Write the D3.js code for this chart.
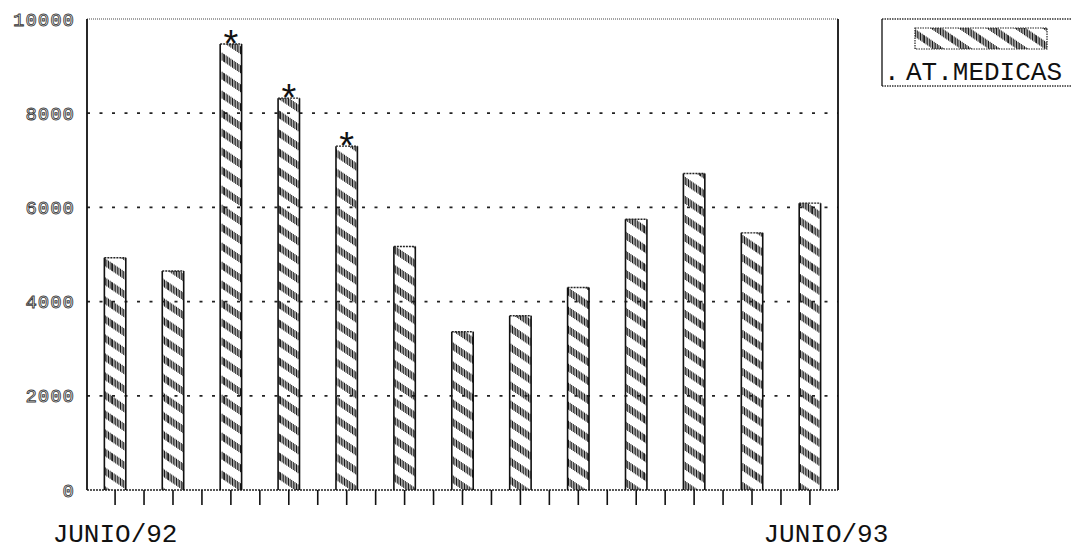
<!DOCTYPE html>
<html lang="es">
<head>
  <meta charset="UTF-8">
  <title>AT.MEDICAS</title>
  <script src="https://d3js.org/d3.v7.min.js"></script>
  <style>
      body { margin: 0; background: #fff; }
      text { font-family: "Liberation Mono", "DejaVu Sans Mono", monospace; }
      .ylab { fill: #fff; stroke: #3a3a3a; stroke-width: 0.9px; font-size: 19px; letter-spacing: 1px; }
      .big { fill: #111; font-size: 26px; }
      .star { fill: #111; font-size: 38px; }
  </style>
</head>
<body>
<div class="canvas"></div>
<script>
  // datos (jun/92 - jun/93)
  const months = ["JUN/92", "JUL/92", "AGO/92", "SEP/92", "OCT/92", "NOV/92", "DIC/92",
                  "ENE/93", "FEB/93", "MAR/93", "ABR/93", "MAY/93", "JUN/93"];
  const atMedicas = [4930, 4650, 9470, 8320, 7300, 5170, 3360, 3700, 4300, 5750, 6720, 5460, 6090];
  const flagged = [false, false, true, true, true, false, false, false, false, false, false, false, false];
  const yTicks = [0, 2000, 4000, 6000, 8000, 10000];
  const endLabels = ["JUNIO/92", "JUNIO/93"];
  const seriesName = "AT.MEDICAS";

  const plotL = 87, plotR = 838, plotT = 19, plotB = 490;

  const svg = d3.select('.canvas')
    .append('svg')
    .attr('width', 1072)
    .attr('height', 550)

  const x = d3.scaleBand()
    .domain(months)
    .range([plotL, plotR])
    .paddingInner(0.63)
    .paddingOuter(0.3)

  const y = d3.scaleLinear()
    .domain([0, 10000])
    .range([plotB, plotT])

  // trama de rayas diagonales hechas de trazos verticales
  const W = 28, H = 19;
  const pat = svg.append('defs').append('pattern')
    .attr('id', 'hatch')
    .attr('patternUnits', 'userSpaceOnUse')
    .attr('width', W)
    .attr('height', H)
  const strokes = [];
  for (let off of [-H, 0, H]) {
    for (let px = 0.5; px <= W; px += 1.6) strokes.push([px, px * H / W + off])
  }
  pat.selectAll('line')
    .data(strokes)
    .enter()
    .append('line')
    .attr('x1', d => d[0]).attr('x2', d => d[0])
    .attr('y1', d => d[1] - 3).attr('y2', d => d[1] + 5)
    .attr('stroke', '#1a1a1a')
    .attr('stroke-width', 1)

  // lineas de division
  svg.append('g')
    .selectAll('line')
    .data(yTicks.filter(t => t > 0 && t < 10000))
    .enter()
    .append('line')
    .attr('x1', plotL).attr('x2', plotR)
    .attr('y1', d => y(d)).attr('y2', d => y(d))
    .attr('stroke', '#222')
    .attr('stroke-width', 1.8)
    .attr('stroke-dasharray', '3 9.5')

  // marco
  svg.append('line').attr('x1', plotL).attr('x2', plotR).attr('y1', plotT).attr('y2', plotT)
    .attr('stroke', '#444').attr('stroke-width', 1.2).attr('stroke-dasharray', '1 1')
  svg.append('line').attr('x1', plotL).attr('x2', plotR).attr('y1', plotB).attr('y2', plotB)
    .attr('stroke', '#222').attr('stroke-width', 1.6).attr('stroke-dasharray', '2 1')
  svg.append('line').attr('x1', plotL).attr('x2', plotL).attr('y1', plotT).attr('y2', plotB)
    .attr('stroke', '#111').attr('stroke-width', 1.8)
  svg.append('line').attr('x1', plotR).attr('x2', plotR).attr('y1', plotT).attr('y2', plotB)
    .attr('stroke', '#111').attr('stroke-width', 1.8)

  // marcas del eje x: centro de cada barra y punto medio entre barras
  const tickPos = [];
  months.forEach((m, i) => {
    const c = x(m) + x.bandwidth() / 2
    tickPos.push(c)
    if (i < months.length - 1) tickPos.push(c + x.step() / 2)
  })
  svg.append('g')
    .selectAll('line')
    .data(tickPos)
    .enter()
    .append('line')
    .attr('x1', d => d).attr('x2', d => d)
    .attr('y1', plotB).attr('y2', plotB + 15)
    .attr('stroke', '#111')
    .attr('stroke-width', 1.6)

  // etiquetas eje y
  svg.append('g')
    .selectAll('text')
    .data(yTicks)
    .enter()
    .append('text')
    .attr('class', 'ylab')
    .attr('x', 75)
    .attr('y', d => y(d))
    .attr('dy', '0.35em')
    .attr('text-anchor', 'end')
    .text(d => d)

  // barras
  const bars = svg.append('g')
    .selectAll('g')
    .data(months.map((m, i) => ({ m, v: atMedicas[i], f: flagged[i] })))
    .enter()
    .append('g')

  bars.append('rect')
    .attr('x', d => x(d.m))
    .attr('y', d => y(d.v))
    .attr('width', x.bandwidth())
    .attr('height', d => plotB - y(d.v))
    .attr('fill', 'url(#hatch)')

  bars.append('path')
    .attr('d', d => `M${x(d.m)},${plotB}V${y(d.v)}M${x(d.m) + x.bandwidth()},${y(d.v)}V${plotB}`)
    .attr('stroke', '#111')
    .attr('stroke-width', 1.6)
    .attr('fill', 'none')

  bars.append('line')
    .attr('x1', d => x(d.m)).attr('x2', d => x(d.m) + x.bandwidth())
    .attr('y1', d => y(d.v)).attr('y2', d => y(d.v))
    .attr('stroke', '#222')
    .attr('stroke-width', 1.4)
    .attr('stroke-dasharray', '2 1')

  bars.filter(d => d.f)
    .append('text')
    .attr('class', 'star')
    .attr('x', d => x(d.m) + x.bandwidth() / 2)
    .attr('y', d => y(d.v) + 14)
    .attr('text-anchor', 'middle')
    .text('*')

  // fechas inicial y final
  svg.append('text')
    .attr('class', 'big')
    .attr('x', x(months[0]) + x.bandwidth() / 2)
    .attr('y', 542)
    .attr('text-anchor', 'middle')
    .text(endLabels[0])

  svg.append('text')
    .attr('class', 'big')
    .attr('x', x(months[months.length - 1]) + x.bandwidth() / 2 + 16)
    .attr('y', 542)
    .attr('text-anchor', 'middle')
    .text(endLabels[1])

  // leyenda
  const lg = svg.append('g')
  lg.append('line').attr('x1', 882).attr('x2', 1072).attr('y1', 19).attr('y2', 19)
    .attr('stroke', '#333').attr('stroke-width', 1.3).attr('stroke-dasharray', '1.5 1')
  lg.append('line').attr('x1', 882).attr('x2', 1072).attr('y1', 86).attr('y2', 86)
    .attr('stroke', '#333').attr('stroke-width', 1.3).attr('stroke-dasharray', '1.5 1')
  lg.append('line').attr('x1', 882).attr('x2', 882).attr('y1', 19).attr('y2', 86)
    .attr('stroke', '#222').attr('stroke-width', 1.4)
  lg.append('rect')
    .attr('x', 915).attr('y', 28).attr('width', 132).attr('height', 21)
    .attr('fill', 'url(#hatch)')
    .attr('stroke', '#222').attr('stroke-width', 1.2).attr('stroke-dasharray', '1.5 1')
  lg.append('text').attr('class', 'big').attr('x', 884).attr('y', 80).text('.')
  lg.append('text').attr('class', 'big').attr('x', 906).attr('y', 80).text(seriesName)
</script>
</body>
</html>
